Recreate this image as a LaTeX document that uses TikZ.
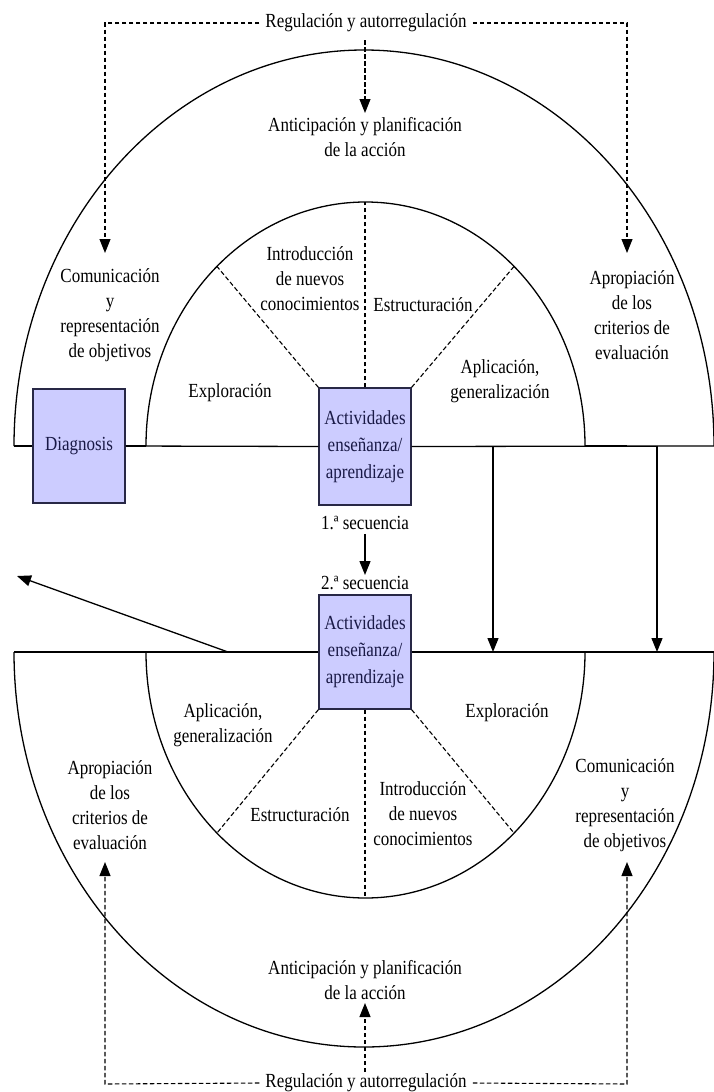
\documentclass[tikz,border=0pt]{standalone}
\usepackage{fontspec}
\setmainfont{Liberation Serif}[FakeStretch=0.85]
\usetikzlibrary{arrows.meta,calc}
\definecolor{boxfill}{RGB}{204,204,255}
\definecolor{boxdraw}{RGB}{40,40,70}
\definecolor{boxtext}{RGB}{25,25,70}
\begin{document}
\begin{tikzpicture}[x=1pt,y=1pt,
 lbl/.style={font=\fontsize{20}{25}\selectfont, align=center, inner sep=1pt},
 box/.style={draw=boxdraw, fill=boxfill, line width=1.2pt, minimum width=92, minimum height=114, inner sep=0pt, align=center, font=\fontsize{20}{27}\selectfont, text=boxtext},
 ln/.style={line width=1.3pt},
 thk/.style={line width=2.6pt},
 dsh/.style={line width=1.1pt, dash pattern=on 4.5pt off 2.5pt},
 tip/.style={-{Triangle[length=14pt,width=11pt]}},
]
\useasboundingbox (0,0) rectangle (714,-1092);

% arcs
\draw[ln] (14,-446) arc[start angle=180,end angle=0,x radius=350,y radius=396];
\draw[ln] (146,-446) arc[start angle=180,end angle=0,x radius=219.5,y radius=244];
\draw[ln] (14,-652) arc[start angle=180,end angle=360,x radius=350,y radius=395];
\draw[ln] (146,-652) arc[start angle=180,end angle=360,x radius=219.5,y radius=246];

% boxes
\node[box] (dia) at (79,-446) {Diagnosis};
\node[box, minimum height=117] (act1) at (365,-446.5) {Actividades\\enseñanza/\\aprendizaje};
\node[box] (act2) at (365,-652) {Actividades\\enseñanza/\\aprendizaje};

% points on the inner arcs
\coordinate (c1) at (365.5,-446);
\coordinate (c2) at (365.5,-652);
\coordinate (tl) at ($(c1)+({219.5*cos(132.6)},{244*sin(132.6)})$);
\coordinate (tr) at ($(c1)+({219.5*cos(47.4)},{244*sin(47.4)})$);
\coordinate (tt) at (365,-202);
\coordinate (bl) at ($(c2)+({219.5*cos(227.4)},{246*sin(227.4)})$);
\coordinate (br) at ($(c2)+({219.5*cos(312.6)},{246*sin(312.6)})$);
\coordinate (bb) at (365,-898);

\draw[dsh] (act1.north west) -- (tl);
\draw[dsh] (act1.north east) -- (tr);
\draw[dsh] (act1.north) -- (tt);
\draw[dsh] (act2.south west) -- (bl);
\draw[dsh] (act2.south east) -- (br);
\draw[dsh] (act2.south) -- (bb);

% baselines
\coordinate (l1) at (14,-446);
\coordinate (r1) at (714,-446);
\coordinate (l2) at (14,-652);
\coordinate (r2) at (714,-652);
\draw[ln] (l1) -- (dia.west);
\draw[ln] (dia.east) -- (act1.west);
\draw[ln] (act1.east) -- (r1);
\draw[ln] (l2) -- (act2.west);
\draw[ln] (act2.east) -- (r2);
\coordinate (k1) at (146,-446);
\coordinate (k2) at (585,-446);
\coordinate (k3) at (627,-446);
\coordinate (k4) at (100,-652);
\coordinate (k5) at (146,-652);
\coordinate (k6) at (585,-652);
\coordinate (k7) at (627,-652);
\draw[thk] (dia.east) -- (k1);
\draw[thk] (k2) -- (k3);
\draw[thk] (k4) -- (k5);
\draw[thk] (k6) -- (k7);

% connecting arrows
\coordinate (p1) at (493,-446);
\coordinate (p2) at (493,-652);
\coordinate (p3) at (657,-446);
\coordinate (p4) at (657,-652);
\draw[ln,tip] (p1) -- (p2);
\draw[ln,tip] (p3) -- (p4);
\coordinate (d1) at (228,-652);
\coordinate (d2) at (17,-576);
\draw[ln,tip] (d1) -- (d2);

\node[lbl] (s1) at (365,-523) {1.ª secuencia};
\node[lbl] (s2) at (365,-583) {2.ª secuencia};
\draw[ln,tip,shorten <=3pt] (s1.south) -- (s2.north);

% labels top
\node[lbl] (ant1) at (365,-137.5) {Anticipación y planificación\\de la acción};
\node[lbl] (com1) at (110,-315.5) {Comunicación\\y\\representación\\de objetivos};
\node[lbl] (apr1) at (632,-315) {Apropiación\\de los\\criterios de\\evaluación};
\node[lbl] (int1) at (310,-278.5) {Introducción\\de nuevos\\conocimientos};
\node[lbl] (est1) at (423,-305) {Estructuración};
\node[lbl] (exp1) at (230,-393) {Exploración};
\node[lbl] (apl1) at (500,-381) {Aplicación,\\generalización};

% labels bottom
\node[lbl] (apl2) at (223,-725.5) {Aplicación,\\generalización};
\node[lbl] (exp2) at (507,-713) {Exploración};
\node[lbl] (est2) at (300,-815) {Estructuración};
\node[lbl] (int2) at (423,-814) {Introducción\\de nuevos\\conocimientos};
\node[lbl] (apr2) at (110,-805) {Apropiación\\de los\\criterios de\\evaluación};
\node[lbl] (com2) at (625,-805) {Comunicación\\y\\representación\\de objetivos};
\node[lbl] (ant2) at (365,-980.5) {Anticipación y planificación\\de la acción};

% regulation frames
\node[lbl, inner sep=6pt] (rt) at (366,-23) {Regulación y autorregulación};
\node[lbl, inner sep=6pt] (rb) at (366,-1083) {Regulación y autorregulación};
\coordinate (ftl) at (105,-23);
\coordinate (atl) at (105,-253);
\coordinate (ftr) at (627,-23);
\coordinate (atr) at (627,-253);
\draw[dsh,tip] (rt.west) -- (ftl) -- (atl);
\draw[dsh,tip] (rt.east) -- (ftr) -- (atr);
\coordinate (ct1) at (365,-40);
\coordinate (ct2) at (365,-113);
\draw[dsh,tip] (ct1) -- (ct2);

\coordinate (fbl) at (105,-1084);
\coordinate (abl) at (105,-862);
\coordinate (fbr) at (627,-1084);
\coordinate (abr) at (627,-862);
\draw[dsh,tip] (rb.west) -- (fbl) -- (abl);
\draw[dsh,tip] (rb.east) -- (fbr) -- (abr);
\coordinate (cb1) at (365,-1072);
\coordinate (cb2) at (365,-1003);
\draw[dsh,tip] (cb1) -- (cb2);
\end{tikzpicture}
\end{document}
